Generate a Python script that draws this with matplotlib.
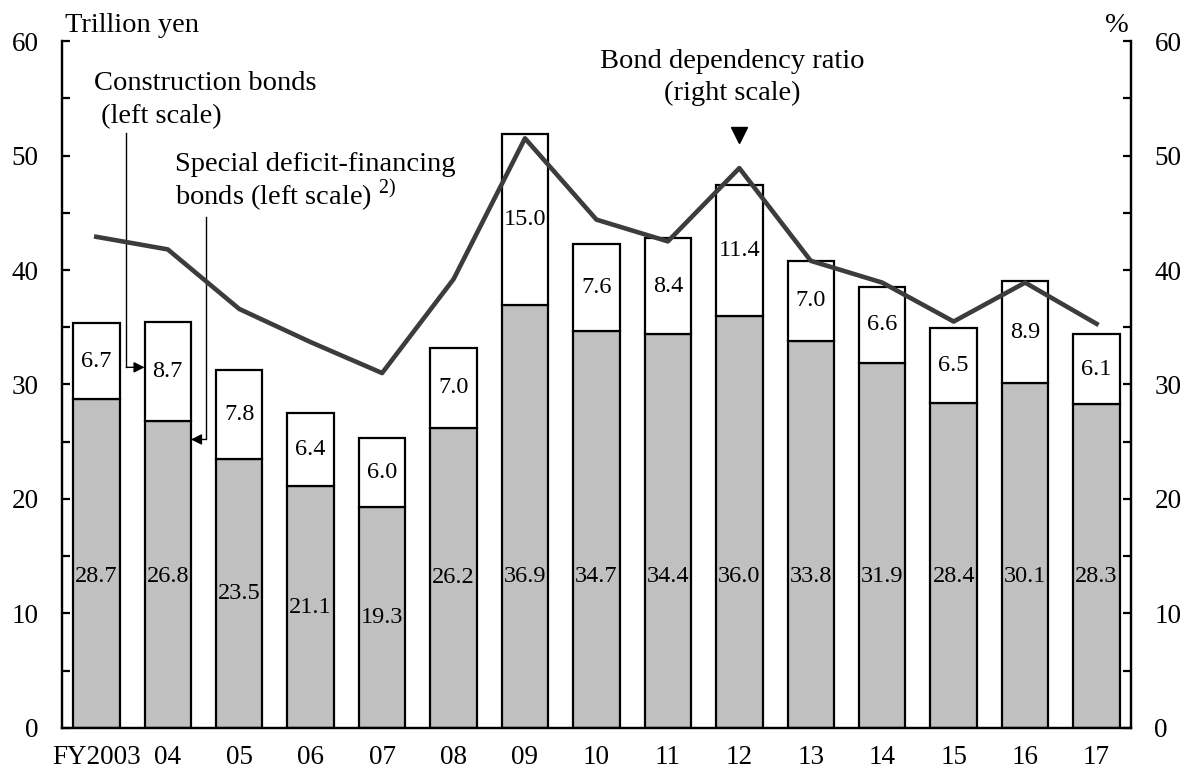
import matplotlib
matplotlib.use("Agg")
import matplotlib.pyplot as plt
import numpy as np
from matplotlib.ticker import MultipleLocator

plt.rcParams["font.family"] = ["Liberation Serif", "DejaVu Serif"]
plt.rcParams["mathtext.fontset"] = "custom"
plt.rcParams["mathtext.rm"] = "Liberation Serif"

years = ["FY2003", "04", "05", "06", "07", "08", "09", "10", "11", "12",
         "13", "14", "15", "16", "17"]
deficit_bonds = [28.7, 26.8, 23.5, 21.1, 19.3, 26.2, 36.9, 34.7, 34.4, 36.0,
                 33.8, 31.9, 28.4, 30.1, 28.3]
construction_bonds = [6.7, 8.7, 7.8, 6.4, 6.0, 7.0, 15.0, 7.6, 8.4, 11.4,
                      7.0, 6.6, 6.5, 8.9, 6.1]
dependency_ratio = [42.9, 41.8, 36.6, 33.7, 31.0, 39.2, 51.5, 44.4, 42.5, 48.9,
                    40.8, 38.9, 35.5, 38.9, 35.3]

x = np.arange(len(years))
width = 0.65
bottom = np.array(deficit_bonds)
top = np.array(construction_bonds)

fig = plt.figure(figsize=(11.86, 7.71), dpi=100)
ax = fig.add_axes([0.0523, 0.0558, 0.9012, 0.891])
ax2 = ax.twinx()

ax.bar(x, bottom, width, color="#c0c0c0", edgecolor="black", linewidth=1.6, zorder=2)
ax.bar(x, top, width, bottom=bottom, color="white", edgecolor="black", linewidth=1.6, zorder=2)

# grey labels sit mid-bar, but no higher than ~13
for xi, b, t in zip(x, bottom, top):
    ax.text(xi, min(b / 2, 13.2), f"{b:.1f}", ha="center", va="center", fontsize=17.5, zorder=3)
    ax.text(xi, b + t / 2, f"{t:.1f}", ha="center", va="center", fontsize=17.5, zorder=3)

ax2.plot(x, dependency_ratio, color="#3c3c3c", linewidth=3.3, zorder=4)

for a in (ax, ax2):
    a.set_ylim(0, 60)
    a.yaxis.set_major_locator(MultipleLocator(10))
    a.yaxis.set_minor_locator(MultipleLocator(5))
    a.spines["top"].set_visible(False)
    for s in ("left", "right", "bottom"):
        a.spines[s].set_linewidth(1.6)
    a.tick_params(axis="y", which="both", direction="in", length=6, width=1.6,
                  labelsize=19.5, pad=17)
ax.set_xlim(-0.48, 14.48)
ax.set_xticks(x)
ax.set_xticklabels(years, fontsize=19.5)
ax.tick_params(axis="x", length=0, pad=12)

# axis units
ax.text(-0.44, 60.75, "Trillion yen", ha="left", va="baseline", fontsize=20.5)
ax.text(14.45, 60.75, "%", ha="right", va="baseline", fontsize=20.5)

# series call-outs
ax.text(-0.035, 54.85, "Construction bonds\n (left scale)", ha="left", va="center",
        fontsize=20.5, linespacing=1.4)
ax.plot([0.42, 0.42], [52.0, 31.5], color="black", linewidth=1.0, zorder=5)
ax.annotate("", xy=(0.675, 31.5), xytext=(0.42, 31.5),
            arrowprops=dict(arrowstyle="-|>", color="black", lw=1.0,
                            mutation_scale=16, shrinkA=0, shrinkB=0), zorder=5)

ax.text(1.1, 47.6, "Special deficit-financing\nbonds (left scale) $^{2)}$", ha="left",
        va="center", fontsize=20.5, linespacing=1.05)
ax.plot([1.53, 1.53], [44.6, 25.2], color="black", linewidth=1.0, zorder=5)
ax.annotate("", xy=(1.325, 25.2), xytext=(1.53, 25.2),
            arrowprops=dict(arrowstyle="-|>", color="black", lw=1.0,
                            mutation_scale=16, shrinkA=0, shrinkB=0), zorder=5)

ax.text(8.9, 56.8, "Bond dependency ratio\n(right scale)", ha="center", va="center",
        fontsize=20.5, linespacing=1.35)
ax2.plot([9], [51.8], marker="v", color="black", markersize=11, linestyle="none")

fig.savefig("out.png", dpi=100)
